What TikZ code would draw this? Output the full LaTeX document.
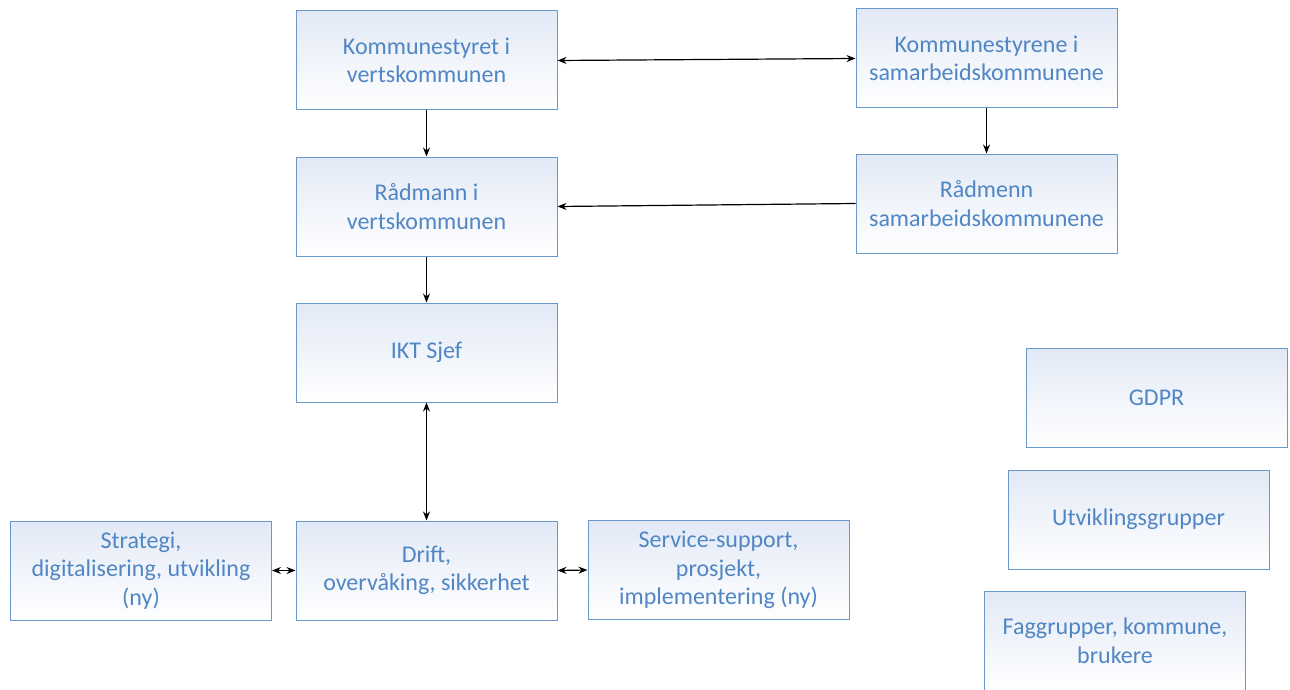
\documentclass[tikz,border=0pt]{standalone}
\usepackage{fontspec}
\setmainfont{Carlito}
\usepackage{tikz}
\usetikzlibrary{arrows.meta}
\definecolor{boxline}{RGB}{104,152,204}
\definecolor{boxtop}{RGB}{226,233,246}
\definecolor{boxtext}{RGB}{80,134,196}

\begin{document}
\begin{tikzpicture}[x=1pt,y=-1pt,
    orgbox/.style={draw=boxline, line width=1pt, top color=boxtop, bottom color=white,
      minimum width=261pt, minimum height=99pt, align=center, text=boxtext,
      font=\fontsize{24}{28.5}\selectfont, inner sep=0pt},
    link/.style={line width=1.2pt, -{Stealth[length=9pt,width=7pt]}},
    twoway/.style={line width=1.2pt, {Stealth[length=9pt,width=7pt]}-{Stealth[length=9pt,width=7pt]}}]
  \useasboundingbox (0,0) rectangle (1290,690);
  % top row
  \node[orgbox] (kstyre) at (426.5,60.5) {Kommunestyret i\\vertskommunen};
  \node[orgbox] (kstyrene) at (986.5,58.5) {Kommunestyrene i\\samarbeidskommunene};
  % radmenn
  \node[orgbox] (radmann) at (426.5,206.5) {Rådmann i\\vertskommunen};
  \node[orgbox] (radmenn) at (986.5,203.5) {Rådmenn\\samarbeidskommunene};
  % ikt
  \node[orgbox] (iktsjef) at (426.5,352.5) {IKT Sjef};
  % bottom row
  \node[orgbox] (strategi) at (141,570.5) {Strategi,\\digitalisering, utvikling\\(ny)};
  \node[orgbox] (drift) at (426.5,570.5) {Drift,\\overvåking, sikkerhet};
  \node[orgbox] (service) at (718.5,570) {Service-support,\\prosjekt,\\implementering (ny)};
  % groups on the right
  \node[orgbox] (gdpr) at (1156.5,397.5) {GDPR};
  \node[orgbox] (utvgrp) at (1138.5,519.5) {Utviklingsgrupper};
  \node[orgbox] (faggrp) at (1115,640.5) {Faggrupper, kommune,\\brukere};
  % connectors
  \draw[twoway] (kstyre.east) -- (kstyrene.west);
  \draw[link] (kstyre.south) -- (radmann.north);
  \draw[link] (kstyrene.south) -- (radmenn.north);
  \draw[link] (radmenn.west) -- (radmann.east);
  \draw[link] (radmann.south) -- (iktsjef.north);
  \draw[twoway] (iktsjef.south) -- (drift.north);
  \draw[twoway] (strategi.east) -- (drift.west);
  \draw[twoway] (drift.east) -- (service.west);
\end{tikzpicture}
\end{document}
